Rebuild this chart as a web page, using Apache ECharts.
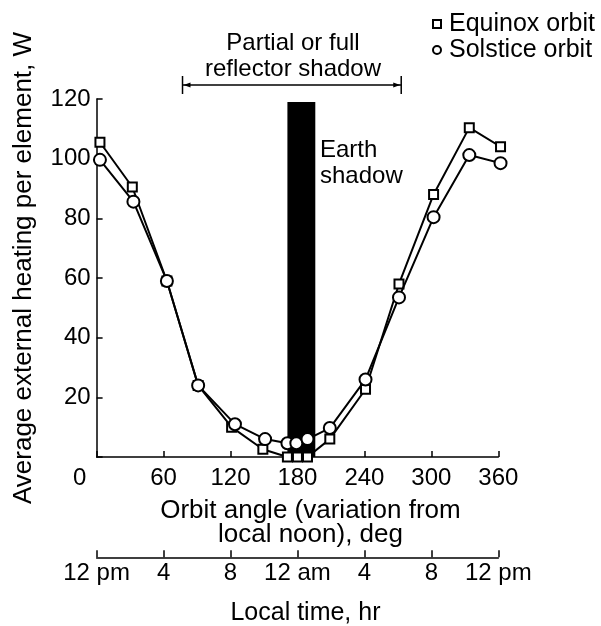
<!DOCTYPE html>
<html><head><meta charset="utf-8">
<script src="https://cdn.jsdelivr.net/npm/echarts@6/dist/echarts.min.js"></script>
<style>html,body{margin:0;padding:0;background:#fff}#c{width:601px;height:626px}</style>
</head><body><div id="c"></div>
<script>
// ---- data ----
const angleTicks = [0, 60, 120, 180, 240, 300, 360];
const heatTicks = [0, 20, 40, 60, 80, 100, 120];
const timeTicks = ['12 pm', '4', '8', '12 am', '4', '8', '12 pm'];
const equinoxAngle = [3, 32, 63, 91, 121, 149, 171, 180, 189, 209, 241, 271, 302, 334, 362];
const equinoxHeat  = [105.5, 90.5, 59, 24, 10, 2.6, 0, 0, 0, 6, 22.7, 58, 88, 110.4, 104];
const solsticeAngle = [3, 33, 63, 91, 124, 151, 171, 179, 189, 209, 241, 271, 302, 334, 362];
const solsticeHeat  = [99.6, 85.6, 59, 24, 11, 6, 4.6, 4.6, 6, 9.7, 26, 53.5, 80.4, 101.2, 98.5];
const earthShadow = [171, 196, 119];      // start angle, end angle, top (W)
const reflectorShadow = [77, 273, 124.7]; // start angle, end angle, level (W)

const FONT = 'Liberation Sans, Arial, Helvetica, sans-serif';
const chart = echarts.init(document.getElementById('c'), null, {renderer: 'canvas'});

const axisLine = {show: true, lineStyle: {color: '#000', width: 1.5}};
const option = {
  animation: false,
  backgroundColor: '#fff',
  textStyle: {fontFamily: FONT, color: '#000'},
  grid: [
    {left: 96.6, top: 99, width: 401.7, height: 358},
    {left: 96.6, top: 557, width: 401.7, height: 1}
  ],
  legend: {
    orient: 'vertical', left: 427, top: 6, itemGap: 0,
    itemWidth: 8, itemHeight: 8,
    textStyle: {fontFamily: FONT, fontSize: 25, color: '#000', lineHeight: 26, padding: [0, 0, 0, 3]},
    data: [
      {name: 'Equinox orbit', icon: 'rect', itemStyle: {color: '#fff', borderColor: '#000', borderWidth: 2}},
      {name: 'Solstice orbit', icon: 'circle', itemStyle: {color: '#fff', borderColor: '#000', borderWidth: 2}}
    ]
  },
  xAxis: [
    {
      gridIndex: 0, type: 'value', min: angleTicks[0], max: angleTicks[angleTicks.length - 1], interval: 60,
      axisLine: axisLine,
      axisTick: {show: true, inside: true, length: 6, lineStyle: {color: '#000', width: 1.5}},
      splitLine: {show: false},
      axisLabel: {
        margin: 9, fontSize: 24, color: '#000', fontFamily: FONT,
        formatter: v => v === 0 ? '{z|0}' : String(v),
        rich: {z: {fontSize: 24, fontFamily: FONT, color: '#000', padding: [0, 34, 0, 0]}}
      },
      name: 'Orbit angle (variation from\nlocal noon), deg',
      nameLocation: 'middle', nameGap: 42,
      nameTextStyle: {fontSize: 26, fontFamily: FONT, color: '#000', lineHeight: 24, padding: [0, 0, 0, 26]}
    },
    {
      gridIndex: 1, type: 'value', min: 0, max: 24, interval: 4,
      axisLine: axisLine,
      axisTick: {show: true, inside: true, length: 7, lineStyle: {color: '#000', width: 1.5}},
      splitLine: {show: false},
      axisLabel: {margin: 4, fontSize: 24, color: '#000', fontFamily: FONT, formatter: v => timeTicks[Math.round(v / 4)]},
      name: 'Local time, hr', nameLocation: 'middle', nameGap: 43,
      nameTextStyle: {fontSize: 25, fontFamily: FONT, color: '#000', padding: [0, 0, 0, 16]}
    }
  ],
  yAxis: [
    {
      gridIndex: 0, type: 'value', min: heatTicks[0], max: heatTicks[heatTicks.length - 1], interval: 20,
      axisLine: axisLine,
      axisTick: {show: true, inside: true, length: 6, lineStyle: {color: '#000', width: 1.5}},
      splitLine: {show: false},
      axisLabel: {margin: 6, fontSize: 24, color: '#000', fontFamily: FONT, formatter: v => v === 0 ? '' : String(v)}
    },
    {gridIndex: 1, type: 'value', min: 0, max: 1, show: false}
  ],
  graphic: [
    {type: 'text', x: 24, y: 268, rotation: Math.PI / 2,
      style: {text: 'Average external heating per element, W', fill: '#000', font: '26px ' + FONT, align: 'center', verticalAlign: 'middle'}},
    {type: 'text', x: 293, y: 56,
      style: {text: 'Partial or full\nreflector shadow', fill: '#000', font: '24px ' + FONT, align: 'center', verticalAlign: 'middle', lineHeight: 26}},
    {type: 'text', x: 320, y: 163,
      style: {text: 'Earth\nshadow', fill: '#000', font: '24px ' + FONT, align: 'left', verticalAlign: 'middle', lineHeight: 26}}
  ],
  series: [
    {
      type: 'custom', name: 'Earth shadow', xAxisIndex: 0, yAxisIndex: 0, z: 1, clip: false,
      data: [earthShadow],
      renderItem: (params, api) => {
        const p0 = api.coord([api.value(0), api.value(2)]);
        const p1 = api.coord([api.value(1), 0]);
        return {type: 'rect', shape: {x: p0[0], y: p0[1], width: p1[0] - p0[0], height: p1[1] - p0[1]}, style: {fill: '#000'}};
      }
    },
    {
      type: 'custom', name: 'Reflector shadow', xAxisIndex: 0, yAxisIndex: 0, z: 1, clip: false,
      data: [reflectorShadow],
      renderItem: (params, api) => {
        const p0 = api.coord([api.value(0), api.value(2)]);
        const p1 = api.coord([api.value(1), api.value(2)]);
        const y = p0[1];
        const st = {stroke: '#000', lineWidth: 1.5};
        return {type: 'group', children: [
          {type: 'line', shape: {x1: p0[0], y1: y, x2: p1[0], y2: y}, style: st},
          {type: 'line', shape: {x1: p0[0], y1: y - 9, x2: p0[0], y2: y + 9}, style: st},
          {type: 'line', shape: {x1: p1[0], y1: y - 9, x2: p1[0], y2: y + 9}, style: st},
          {type: 'polygon', shape: {points: [[p0[0] + 1, y], [p0[0] + 8, y - 2.5], [p0[0] + 8, y + 2.5]]}, style: {fill: '#000'}},
          {type: 'polygon', shape: {points: [[p1[0] - 1, y], [p1[0] - 8, y - 2.5], [p1[0] - 8, y + 2.5]]}, style: {fill: '#000'}}
        ]};
      }
    },
    {
      type: 'line', name: 'Equinox orbit', xAxisIndex: 0, yAxisIndex: 0, z: 3, clip: false,
      data: equinoxAngle.map((a, i) => [a, equinoxHeat[i]]),
      symbol: 'rect', symbolSize: 9,
      itemStyle: {color: '#fff', borderColor: '#000', borderWidth: 2},
      lineStyle: {color: '#000', width: 2}
    },
    {
      type: 'line', name: 'Solstice orbit', xAxisIndex: 0, yAxisIndex: 0, z: 4, clip: false,
      data: solsticeAngle.map((a, i) => [a, solsticeHeat[i]]),
      symbol: 'circle', symbolSize: 12,
      itemStyle: {color: '#fff', borderColor: '#000', borderWidth: 2},
      lineStyle: {color: '#000', width: 2}
    }
  ]
};
chart.setOption(option);
</script>
</body></html>
